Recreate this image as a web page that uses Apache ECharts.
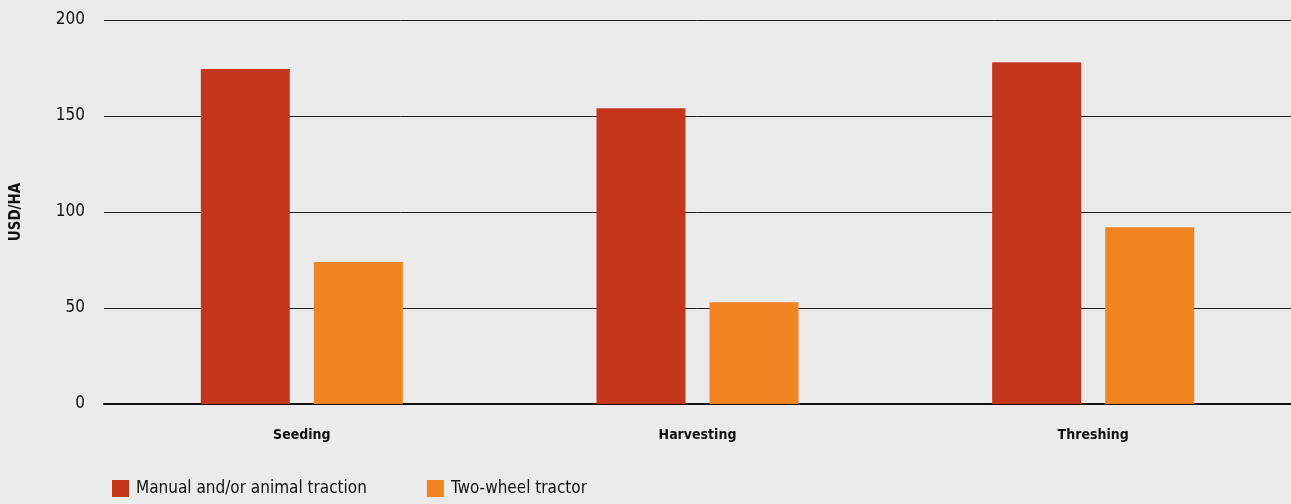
<!DOCTYPE html>
<html>
<head>
<meta charset="utf-8">
<script src="https://cdn.jsdelivr.net/npm/echarts@6/dist/echarts.min.js"></script>
<style>
html, body { margin: 0; padding: 0; background: #ebebeb; }
#main { width: 1291px; height: 504px; }
</style>
</head>
<body>
<div id="main"></div>
<script>
const categories = ['Seeding', 'Harvesting', 'Threshing']
const manualValues = [174.5, 154, 178]
const tractorValues = [74, 53, 92]
const yTicks = [0, 50, 100, 150, 200]

const font = '"Liberation Sans Narrow", "DejaVu Sans Condensed", sans-serif'
const chart = echarts.init(document.getElementById('main'))

chart.setOption({
  backgroundColor: '#ebebeb',
  animation: false,
  color: ['#c4361b', '#f28321'],
  grid: { left: 104, right: -1, top: 20, bottom: 100 },
  legend: {
    left: 107,
    bottom: 2,
    itemWidth: 17,
    itemHeight: 17,
    itemGap: 60,
    icon: 'rect',
    textStyle: { fontFamily: font, fontSize: 17, color: '#111', padding: [0, 0, 0, 2] },
    data: ['Manual and/or animal traction', 'Two-wheel tractor']
  },
  xAxis: {
    type: 'category',
    data: categories,
    axisLine: { lineStyle: { color: '#111', width: 2 } },
    axisTick: { show: false },
    axisLabel: { fontFamily: font, fontSize: 14, fontWeight: 'bold', color: '#111', margin: 24 }
  },
  yAxis: {
    type: 'value',
    min: yTicks[0],
    max: yTicks[yTicks.length - 1],
    interval: 50,
    name: 'USD/HA',
    nameLocation: 'middle',
    nameGap: 80,
    nameTextStyle: { fontFamily: font, fontSize: 15, fontWeight: 'bold', color: '#111' },
    axisLine: { show: false },
    axisTick: { show: false },
    splitLine: { lineStyle: { color: '#1e1e1e', width: 1 } },
    axisLabel: { fontFamily: font, fontSize: 17, color: '#111', margin: 19 }
  },
  series: [
    {
      name: 'Manual and/or animal traction',
      type: 'bar',
      data: manualValues,
      barWidth: 89,
      barGap: '27%'
    },
    {
      name: 'Two-wheel tractor',
      type: 'bar',
      data: tractorValues,
      barWidth: 89
    }
  ]
})
</script>
</body>
</html>
